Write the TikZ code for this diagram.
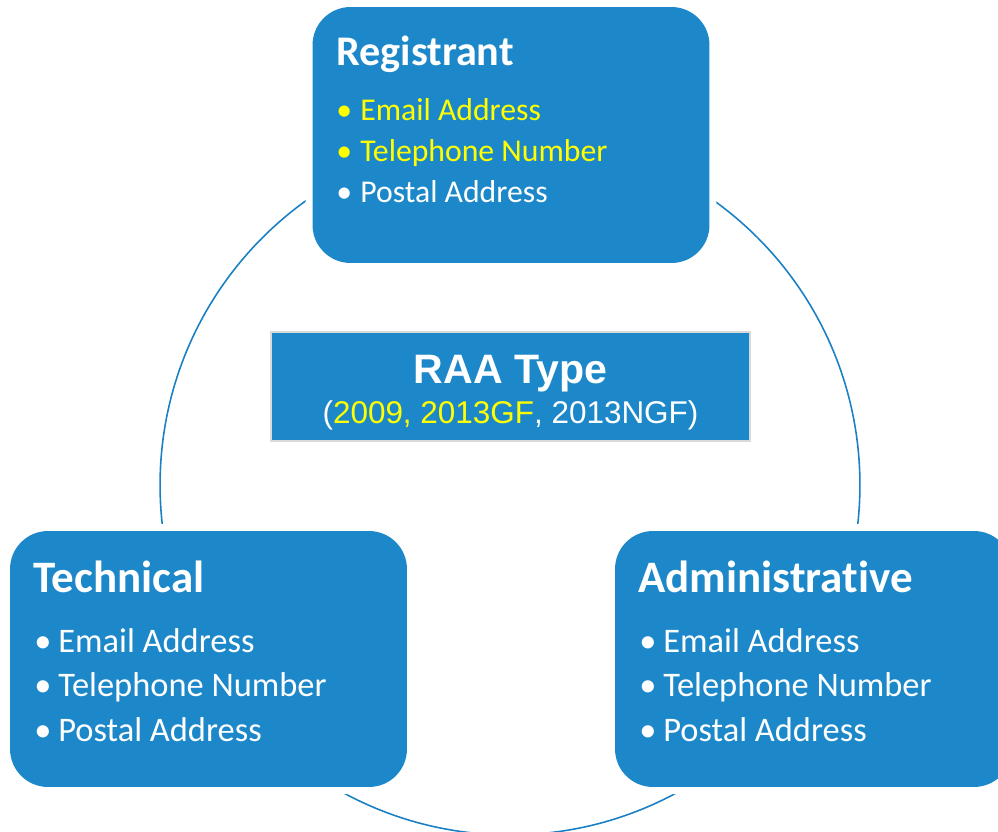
\documentclass[tikz,border=0pt]{standalone}
\usepackage{fontspec}
\setmainfont{Carlito}[Ligatures={NoCommon}]
\newfontfamily\arialfont{Liberation Sans}
\usetikzlibrary{calc}
\usetikzlibrary{positioning}
\definecolor{boxblue}{RGB}{29,136,201}
\definecolor{ringblue}{RGB}{26,128,196}
\definecolor{hiyellow}{RGB}{255,255,0}

\begin{document}
\begin{tikzpicture}[x=0.02cm, y=-0.02cm,
        cbox/.style={rectangle, rounded corners=0.76cm, fill=boxblue, inner sep=0pt,
            minimum width=7.94cm, minimum height=5.12cm,
            preaction={draw=white, line width=8pt}},
        title/.style={anchor=base west, inner sep=0pt, text=white,
            font=\bfseries\fontsize{#1}{#1}\selectfont},
        item/.style={anchor=base west, inner sep=0pt,
            font=\fontsize{#1}{#1}\selectfont},
        raabox/.style={rectangle, fill=boxblue, draw=gray!30, line width=1.2pt,
            minimum width=9.58cm, minimum height=2.18cm},
        ring/.style={ringblue, line width=0.9pt}]
        \useasboundingbox (0,0) rectangle (998,832);
        \clip (0,0) rectangle (998,832);

        % Ring behind the three boxes
        \draw[ring] (510,485) circle[radius=7cm];

        % Registrant box
        \begin{scope}[shift={(312,7)}]
            \node[cbox] (reg) at (199,128) {};
            \node[title=24] (regtitle) at (24,58) {Registrant};
            \foreach \t/\c [count=\i] in {Email Address/hiyellow, Telephone Number/hiyellow, Postal Address/white} {
                \node[item=18.05, text=\c] (reg\i) at (24, {113.7+41*(\i-1)}) {\makebox[0.48cm][l]{\textbullet}\t};
            }
        \end{scope}

        % Technical box
        \begin{scope}[shift={(10,531)}]
            \node[cbox] (tech) at (198.5,128) {};
            \node[title=25.6] (techtitle) at (23,61) {Technical};
            \foreach \t [count=\i] in {Email Address, Telephone Number, Postal Address} {
                \node[item=19.6, text=white] (tech\i) at (24, {121+44.5*(\i-1)}) {\makebox[0.48cm][l]{\textbullet}\t};
            }
        \end{scope}

        % Administrative box (cut by the right edge)
        \begin{scope}[shift={(615,531)}]
            \node[cbox] (admin) at (198.5,128) {};
            \node[title=25.6] (admintitle) at (23,61) {Administrative};
            \foreach \t [count=\i] in {Email Address, Telephone Number, Postal Address} {
                \node[item=19.6, text=white] (admin\i) at (24, {121+44.5*(\i-1)}) {\makebox[0.48cm][l]{\textbullet}\t};
            }
        \end{scope}

        % RAA type in the middle
        \node[raabox] (raa) at (510.5,386.5) {};
        \node[anchor=base, inner sep=0pt, text=white, font=\arialfont\bfseries\fontsize{23.4}{23.4}\selectfont] (raatitle) at (510.5,383) {RAA Type};
        \node[anchor=base, inner sep=0pt, text=white, font=\arialfont\fontsize{17.9}{17.9}\selectfont] (raasub) at (510.5,423) {(\textcolor{hiyellow}{2009, 2013GF}, 2013NGF)};
    \end{tikzpicture}
\end{document}
